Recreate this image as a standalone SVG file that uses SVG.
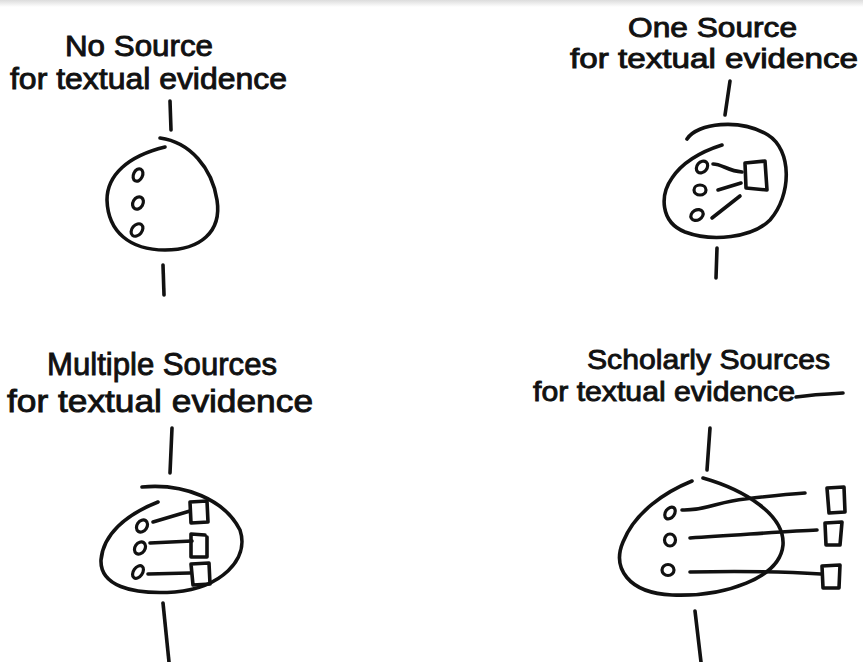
<svg xmlns="http://www.w3.org/2000/svg" width="863" height="662" viewBox="0 0 863 662">
<defs>
<style>
.ink{fill:none;stroke:#111;stroke-width:3.6;stroke-linecap:round;stroke-linejoin:round}
.dot{fill:none;stroke:#111;stroke-width:3.2}
.lbl{font-family:"Liberation Sans","DejaVu Sans",sans-serif;fill:#111;stroke:#111;stroke-width:0.9}
</style>
<linearGradient id="topband" x1="0" y1="0" x2="0" y2="1">
<stop offset="0" stop-color="#dcdcdc"/>
<stop offset="1" stop-color="#ffffff"/>
</linearGradient>
</defs>
<rect width="863" height="662" fill="#ffffff"/>
<rect width="863" height="7" fill="url(#topband)"/>

<g id="no-source">
<text class="lbl" x="65" y="56" textLength="148" lengthAdjust="spacingAndGlyphs" font-size="29">No Source</text>
<text class="lbl" x="10" y="89" textLength="277" lengthAdjust="spacingAndGlyphs" font-size="29">for textual evidence</text>
<path class="ink" d="M160 138 C190 142 212 168 217 200 C222 232 200 250 165 250 C130 250 108 232 107 200 C107 175 128 156 165 147"/>
<ellipse class="dot" cx="138" cy="175" rx="4.5" ry="6.5" transform="rotate(25 138 175)"/>
<ellipse class="dot" cx="138" cy="203" rx="5" ry="6.5" transform="rotate(30 138 203)"/>
<ellipse class="dot" cx="137" cy="230" rx="5" ry="7" transform="rotate(40 137 230)"/>
</g>

<g id="one-source">
<text class="lbl" x="628" y="37" textLength="169" lengthAdjust="spacingAndGlyphs" font-size="27">One Source</text>
<text class="lbl" x="570" y="68" textLength="288" lengthAdjust="spacingAndGlyphs" font-size="27">for textual evidence</text>
<path class="ink" d="M687 139 C697 123 740 118 768 135 C792 150 792 195 770 220 C752 238 712 242 685 232 C660 222 660 195 672 178 C682 163 700 152 722 145"/>
<ellipse class="dot" cx="702" cy="167" rx="5" ry="6.5" transform="rotate(40 702 167)"/>
<ellipse class="dot" cx="700" cy="190" rx="6" ry="5"/>
<ellipse class="dot" cx="697" cy="215" rx="6.5" ry="5" transform="rotate(-30 697 215)"/>
<path class="ink" d="M713 164 C722 164 728 171 742 172"/>
<path class="ink" d="M718 190 L741 183"/>
<path class="ink" d="M712 218 L740 196"/>
<path class="ink" d="M745 163 L765 161 L767 190 L746 188 Z"/>
</g>

<g id="multiple-sources">
<text class="lbl" x="47" y="375" textLength="230" lengthAdjust="spacingAndGlyphs" font-size="32">Multiple Sources</text>
<text class="lbl" x="7" y="412" textLength="306" lengthAdjust="spacingAndGlyphs" font-size="32">for textual evidence</text>
<path class="ink" d="M142 487 C185 483 225 500 240 530 C250 560 220 588 175 592 C130 595 100 585 101 560 C103 535 125 515 158 502"/>
<ellipse class="dot" cx="142" cy="526" rx="5" ry="6.5" transform="rotate(35 142 526)"/>
<ellipse class="dot" cx="140" cy="548" rx="5" ry="6.5" transform="rotate(35 140 548)"/>
<ellipse class="dot" cx="138" cy="572" rx="4.5" ry="7" transform="rotate(35 138 572)"/>
<path class="ink" d="M153 522 L190 511"/>
<path class="ink" d="M150 543 L192 541"/>
<path class="ink" d="M148 574 L190 573"/>
<path class="ink" d="M190 502 L207 501 L208 522 L191 523 Z"/>
<path class="ink" d="M205 535 L191 534 L191 557 L207 557 L207 537"/>
<path class="ink" d="M191 564 L209 563 L210 584 L193 585 Z"/>
</g>

<g id="scholarly-sources">
<text class="lbl" x="587" y="369" textLength="243" lengthAdjust="spacingAndGlyphs" font-size="28">Scholarly Sources</text>
<text class="lbl" x="533" y="401" textLength="262" lengthAdjust="spacingAndGlyphs" font-size="28">for textual evidence</text>
<path class="ink" d="M796 397 C810 395 825 394 843 393"/>
<path class="ink" d="M703 478 C745 490 785 515 783 545 C780 578 725 597 672 595 C628 593 612 568 623 542 C635 512 665 492 692 481"/>
<ellipse class="dot" cx="670" cy="513" rx="4.5" ry="6.5" transform="rotate(35 670 513)"/>
<ellipse class="dot" cx="670" cy="540" rx="5.5" ry="6"/>
<ellipse class="dot" cx="668" cy="570" rx="6" ry="5.5"/>
<path class="ink" d="M682 510 C705 511 720 501 745 499 C770 496 790 494 805 493"/>
<path class="ink" d="M690 538 C740 535 790 531 817 530"/>
<path class="ink" d="M690 572 C740 571 790 572 821 574"/>
<path class="ink" d="M827 488 L844 487 L845 512 L829 513 Z"/>
<path class="ink" d="M825 523 L842 522 L840 545 L826 545 Z"/>
<path class="ink" d="M822 566 L840 565 L839 588 L823 588 Z"/>
</g>

<g id="connectors">
<path class="ink" d="M170 101 L171 130"/>
<path class="ink" d="M163 265 L164 295"/>
<path class="ink" d="M730 81 L725 115"/>
<path class="ink" d="M717 248 L716 278"/>
<path class="ink" d="M172 428 L170 473"/>
<path class="ink" d="M163 603 L169 662"/>
<path class="ink" d="M710 428 L707 470"/>
<path class="ink" d="M695 611 L701 662"/>
</g>
</svg>
